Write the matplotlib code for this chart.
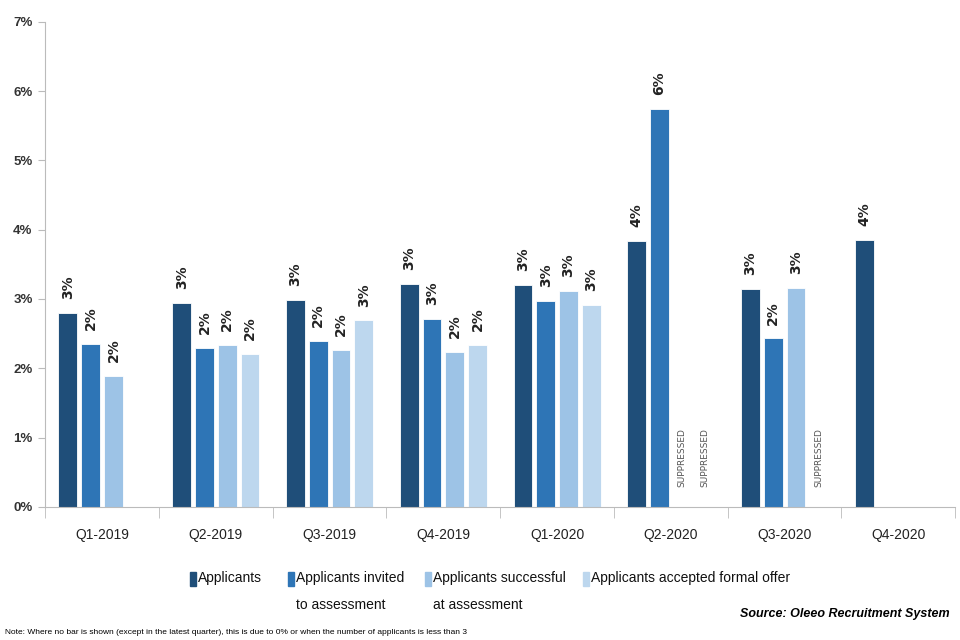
import numpy as np
import matplotlib.pyplot as plt
from matplotlib.patches import Rectangle

quarters = ['Q1-2019', 'Q2-2019', 'Q3-2019', 'Q4-2019',
            'Q1-2020', 'Q2-2020', 'Q3-2020', 'Q4-2020']
series_names = ['Applicants', 'Applicants invited\nto assessment',
                'Applicants successful\nat assessment', 'Applicants accepted formal offer']
# percent values, None = suppressed / no bar
applicants = [2.80, 2.94, 2.99, 3.22, 3.20, 3.84, 3.15, 3.85]
invited = [2.35, 2.29, 2.40, 2.71, 2.97, 5.74, 2.43, None]
successful = [1.89, 2.34, 2.27, 2.24, 3.12, None, 3.16, None]
accepted = [None, 2.21, 2.69, 2.34, 2.92, None, None, None]
# which empty slots get a "SUPPRESSED" note (q index, series index)
suppressed = [(5, 2), (5, 3), (6, 3)]

colors = ['#1F4E79', '#2E75B6', '#9DC3E6', '#BDD7EE']
narrow = ['Liberation Sans', 'DejaVu Sans']

fig = plt.figure(figsize=(9.6, 6.4), dpi=100)
ax = fig.add_axes([0.047, 0.208, 0.948, 0.758])

x = np.arange(len(quarters))
slot = 0.2
width = 0.165
all_series = [applicants, invited, successful, accepted]
for i, vals in enumerate(all_series):
    off = (i - 1.5) * slot
    for j, v in enumerate(vals):
        if v is None:
            continue
        ax.bar(x[j] + off, v, width, color=colors[i], edgecolor='white', linewidth=0.6)
        ax.text(x[j] + off, v + 0.2, f'{round(v):.0f}%', rotation=90, ha='center',
                va='bottom', fontsize=10, color='#222222', fontweight='bold')

for j, i in suppressed:
    ax.text(x[j] + (i - 1.5) * slot, 0.28, 'SUPPRESSED', rotation=90, ha='center',
            va='bottom', fontsize=6.5, color='#555555')

ax.set_xlim(-0.5, len(quarters) - 0.5)
ax.set_ylim(0, 7)
ax.set_yticks(range(8))
ax.set_yticklabels([f'{v}%' for v in range(8)], family=narrow, fontweight='bold',
                   fontsize=9.5, color='#333333')
ax.set_xticks(x)
ax.set_xticklabels(quarters, family=narrow, fontsize=10, color='#222222')
ax.set_xticks(np.arange(len(quarters) + 1) - 0.5, minor=True)
ax.tick_params(axis='x', which='major', length=0, pad=15)
ax.tick_params(axis='x', which='minor', length=8, color='#BBBBBB')
ax.tick_params(axis='y', length=5, color='#BBBBBB', pad=4)
for s in ['top', 'right']:
    ax.spines[s].set_visible(False)
for s in ['left', 'bottom']:
    ax.spines[s].set_color('#BBBBBB')

# legend drawn by hand so wrapped labels align with the first line
leg_x = [190, 288, 425, 583]
for i, name in enumerate(series_names):
    fx = leg_x[i] / 960
    fig.add_artist(Rectangle((fx, 1 - 586 / 640), 6 / 960, 14 / 640,
                             transform=fig.transFigure, color=colors[i]))
    fig.text(fx + 8 / 960, 1 - 571 / 640, name, ha='left', va='top', family=narrow,
             fontsize=10, linespacing=2.2, color='#111111')

fig.text(950 / 960, 1 - 614 / 640, 'Source: Oleeo Recruitment System', ha='right',
         va='center', family=narrow, fontsize=9, fontstyle='italic', fontweight='bold')
fig.text(5 / 960, 1 - 632 / 640,
         'Note: Where no bar is shown (except in the latest quarter), this is due to 0% '
         'or when the number of applicants is less than 3',
         ha='left', va='center', family=narrow, fontsize=6)

fig.savefig('out.png', dpi=100)
